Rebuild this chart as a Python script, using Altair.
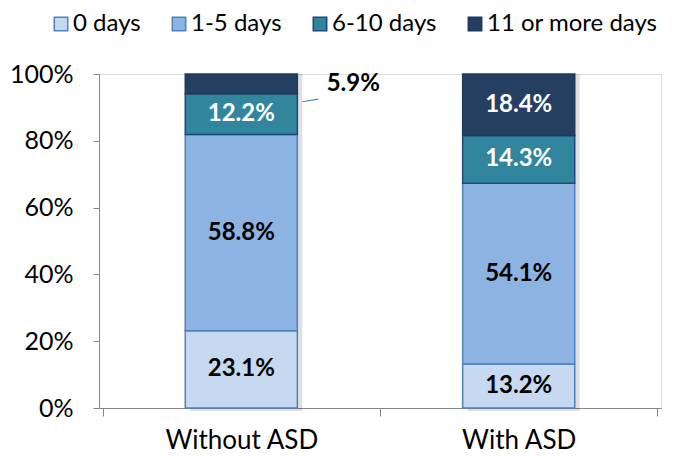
import altair as alt
import pandas as pd

groups = ["Without ASD", "With ASD"]
categories = ["0 days", "1-5 days", "6-10 days", "11 or more days"]
without_asd = [23.1, 58.8, 12.2, 5.9]
with_asd = [13.2, 54.1, 14.3, 18.4]

fills = ["#C6D9F1", "#8DB3E2", "#31859C", "#243F60"]
strokes = ["#4F81BD", "#4F81BD", "#1F497D", "#1F3A5F"]
text_colors = ["#000000", "#000000", "#FFFFFF", "#FFFFFF"]

rows = []
for g, vals in zip(groups, [without_asd, with_asd]):
    cum = 0.0
    for i, (c, v) in enumerate(zip(categories, vals)):
        start = cum / 100
        end = (cum + v) / 100
        cum += v
        outside = (g == "Without ASD" and c == "11 or more days")
        rows.append({
            "group": g, "cat": c, "order": i, "value": v,
            "start": start, "end": end, "mid": (start + end) / 2,
            "label": f"{v:.1f}%",
            "tcolor": "#000000" if outside else text_colors[i],
            "outside": outside,
        })
df = pd.DataFrame(rows)

# leader line for the small 5.9% segment
leader = pd.DataFrame([{"group": "Without ASD", "y1": 0.917, "y2": 0.925}])
shadow = pd.DataFrame([{"group": g, "lo": 0.0, "hi": 1.0} for g in groups])

FONT = "Lato"

xscale = alt.Scale(domain=groups, paddingInner=0, paddingOuter=0.013)
xenc = alt.X("group:N", scale=xscale, sort=groups,
             axis=alt.Axis(title=None, labelAngle=0, labelFontSize=26, labelFont=FONT,
                           labelColor="#000000", domainColor="#868686", tickColor="#868686",
                           tickBand="extent", tickSize=8, labelPadding=11))
yscale = alt.Scale(domain=[0, 1])

bw = alt.RelativeBandSize(0.404)

legend_cfg = dict(title=None, orient="none", legendX=-50, legendY=-62,
                  direction="horizontal", columns=4, symbolType="square",
                  symbolSize=180, symbolStrokeWidth=1.5,
                  labelFontSize=24, labelFont=FONT, labelColor="#000000",
                  labelOffset=0, columnPadding=26, labelLimit=300)

shadow_layer = alt.Chart(shadow).mark_bar(
    width=bw, color="#000000", opacity=0.12, xOffset=5, yOffset=3
).encode(x=xenc, y=alt.Y("lo:Q", scale=yscale), y2="hi:Q")

bars = alt.Chart(df).mark_bar(width=bw, strokeWidth=1.5).encode(
    x=xenc,
    y=alt.Y("start:Q", scale=yscale,
            axis=alt.Axis(title=None, format=".0%", values=[0, 0.2, 0.4, 0.6, 0.8, 1.0],
                          grid=False, labelFontSize=25, labelFont=FONT, labelColor="#000000",
                          domainColor="#868686", tickColor="#868686", tickSize=6,
                          labelPadding=20)),
    y2="end:Q",
    color=alt.Color("cat:N", scale=alt.Scale(domain=categories, range=fills),
                    sort=categories, legend=alt.Legend(**legend_cfg)),
    stroke=alt.Stroke("cat:N", scale=alt.Scale(domain=categories, range=strokes),
                      sort=categories, legend=alt.Legend(**legend_cfg)),
    order=alt.Order("order:Q"),
)

inside = alt.Chart(df).transform_filter("!datum.outside").mark_text(
    font=FONT, fontSize=24, fontWeight="bold", baseline="middle", align="center"
).encode(
    x=xenc, y=alt.Y("mid:Q", scale=yscale), text="label:N",
    color=alt.Color("tcolor:N", scale=None),
)

outside = alt.Chart(df).transform_filter("datum.outside").mark_text(
    font=FONT, fontSize=24, fontWeight="bold", baseline="middle", align="center", dx=112,
    color="#000000"
).encode(x=xenc, y=alt.Y("mid:Q", scale=yscale), text="label:N")

rule = alt.Chart(leader).mark_rule(color="#4F81BD", strokeWidth=1.2, xOffset=61, x2Offset=77).encode(
    x=xenc, x2="group:N", y=alt.Y("y1:Q", scale=yscale), y2="y2:Q"
)

chart = alt.layer(shadow_layer, bars, inside, outside, rule).properties(
    width=562, height=334,
    autosize=alt.AutoSizeParams(type="none"),
    padding={"left": 91, "top": 66, "right": 5, "bottom": 48},
).configure_view(stroke=None).configure(background="white")

chart.save("out.html", embed_options={"renderer": "svg", "actions": False})
